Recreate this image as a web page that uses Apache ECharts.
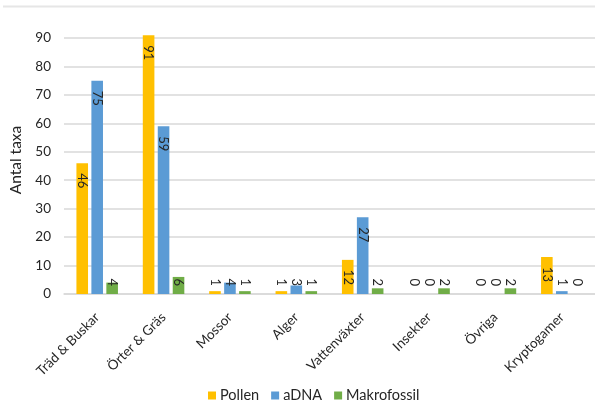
<!DOCTYPE html>
<html>
<head>
<meta charset="utf-8">
<script src="https://cdn.jsdelivr.net/npm/echarts@6/dist/echarts.min.js"></script>
<style>
  html, body { margin: 0; padding: 0; background: #fff; }
  #chart { width: 595px; height: 405px; }
</style>
</head>
<body>
<div id="chart"></div>
<script>
// Antal taxa per grupp och metod
const categories = ['Träd & Buskar', 'Örter & Gräs', 'Mossor', 'Alger', 'Vattenväxter', 'Insekter', 'Övriga', 'Kryptogamer'];
const pollen = [46, 91, 1, 1, 12, 0, 0, 13];
const aDNA = [75, 59, 4, 3, 27, 0, 0, 1];
const makrofossil = [4, 6, 1, 1, 2, 2, 2, 0];
const yTicks = [0, 10, 20, 30, 40, 50, 60, 70, 80, 90];

const FONT = 'Lato, "Open Sans", sans-serif';
const TEXT = '#262626';

// Tall bars carry their value inside the top end; short ones show it just above the baseline
function withLabels(values) {
  return values.map(v => {
    if (v >= 10) {
      return { value: v, label: { position: 'insideTop', align: 'left', verticalAlign: 'middle', distance: 10 } };
    }
    return { value: v, label: { position: 'insideBottom', align: 'right', verticalAlign: 'middle', distance: 8 } };
  });
}

function barSeries(name, values, color) {
  return {
    name: name,
    type: 'bar',
    data: withLabels(values),
    barWidth: 11.6,
    barGap: '29%',
    clip: false,
    itemStyle: { color: color },
    label: {
      show: true,
      rotate: -90,
      fontFamily: FONT,
      fontSize: 13,
      color: TEXT
    }
  };
}

const chart = echarts.init(document.getElementById('chart'), null, { renderer: 'canvas' });
chart.setOption({
  animation: false,
  backgroundColor: '#fff',
  textStyle: { fontFamily: FONT },
  graphic: [{
    type: 'line',
    shape: { x1: 3, y1: 6.5, x2: 595, y2: 6.5 },
    style: { stroke: '#e6e6e6', lineWidth: 2 }
  }],
  grid: { left: 58, right: -1, top: 38, bottom: 111, containLabel: false },
  xAxis: {
    type: 'category',
    data: categories,
    axisLine: { lineStyle: { color: '#d9d9d9', width: 1.5 } },
    axisTick: { show: false },
    axisLabel: {
      interval: 0,
      rotate: 45,
      margin: 21,
      fontFamily: FONT,
      fontSize: 13.5,
      color: TEXT
    }
  },
  yAxis: {
    type: 'value',
    min: yTicks[0],
    max: yTicks[yTicks.length - 1],
    interval: 10,
    name: 'Antal taxa',
    nameLocation: 'middle',
    nameGap: 40,
    nameTextStyle: { fontFamily: FONT, fontSize: 15.5, color: TEXT, padding: [0, 0, 0, 12] },
    axisLine: { show: false },
    axisTick: { show: false },
    splitLine: { lineStyle: { color: '#d9d9d9', width: 1.5 } },
    axisLabel: { fontFamily: FONT, fontSize: 13.5, color: TEXT, margin: 13 }
  },
  legend: {
    bottom: -3,
    left: 203,
    icon: 'rect',
    itemWidth: 8,
    itemHeight: 8,
    itemGap: 12,
    textStyle: { fontFamily: FONT, fontSize: 14.5, color: TEXT, padding: [0, 0, 0, -1] },
    data: ['Pollen', 'aDNA', 'Makrofossil']
  },
  series: [
    barSeries('Pollen', pollen, '#FFC000'),
    barSeries('aDNA', aDNA, '#5B9BD5'),
    barSeries('Makrofossil', makrofossil, '#70AD47')
  ]
});
</script>
</body>
</html>
